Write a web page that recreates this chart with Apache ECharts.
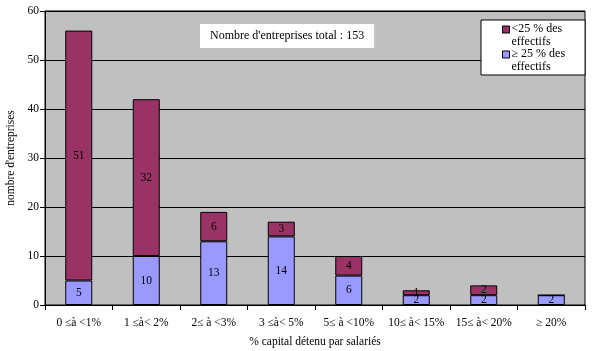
<!DOCTYPE html>
<html>
<head>
<meta charset="utf-8">
<script src="https://cdn.jsdelivr.net/npm/echarts@6/dist/echarts.min.js"></script>
<style>
  html, body { margin: 0; padding: 0; background: #fff; }
  #chart { width: 603px; height: 351px; }
</style>
</head>
<body>
<div id="chart"></div>
<script>
// tranches de capital détenu par les salariés
const categories = ['0 \u2264à <1%', '1 \u2264à< 2%', '2\u2264 à <3%', '3 \u2264à< 5%', '5\u2264 à <10%', '10\u2264 à< 15%', '15\u2264 à< 20%', '\u2265 20%'];
// >= 25 % des effectifs (bas de la pile)
const plus25 = [5, 10, 13, 14, 6, 2, 2, 2];
// < 25 % des effectifs (haut de la pile)
const moins25 = [51, 32, 6, 3, 4, 1, 2, 0];
const yTicks = [0, 10, 20, 30, 40, 50, 60];
const totalText = "Nombre d'entreprises total : 153";

const font = 'Liberation Serif';
const chart = echarts.init(document.getElementById('chart'));

chart.setOption({
    animation: false,
    textStyle: { fontFamily: font, color: '#000' },
    title: {
        text: totalText,
        left: 200,
        top: 24,
        padding: [6, 10, 6, 10],
        backgroundColor: '#fff',
        textStyle: { fontFamily: font, fontSize: 12, fontWeight: 'normal', color: '#000' }
    },
    legend: {
        orient: 'vertical',
        left: 481,
        top: 20,
        padding: [3, 20, 2, 21],
        itemGap: 0,
        itemWidth: 7,
        itemHeight: 19,
        backgroundColor: '#fff',
        borderColor: '#000',
        borderWidth: 1,
        borderRadius: 0,
        // carré en haut de l'élément, aligné sur la première ligne
        icon: 'path://M0,0h7v7h-7zM0,19',
        itemStyle: { borderColor: '#000', borderWidth: 1 },
        data: ['<25 % des effectifs', '\u2265 25 % des effectifs'],
        formatter: name => name.replace(' des ', ' des\n'),
        textStyle: { fontFamily: font, fontSize: 12, color: '#000', padding: [0, 0, 0, -3], lineHeight: 12.5 }
    },
    grid: {
        left: 45, top: 11, width: 540, height: 294,
        outerBoundsMode: 'none',
        show: true, backgroundColor: '#c0c0c0', borderColor: '#000', borderWidth: 1
    },
    xAxis: {
        type: 'category',
        data: categories,
        name: '% capital détenu par salariés',
        nameLocation: 'middle',
        nameGap: 31,
        nameTextStyle: { fontFamily: font, fontSize: 11.5, color: '#000' },
        axisLine: { lineStyle: { color: '#000' } },
        axisTick: { show: true, length: 5, lineStyle: { color: '#000' } },
        axisLabel: { fontFamily: font, fontSize: 11.5, color: '#000', margin: 12, interval: 0 }
    },
    yAxis: {
        type: 'value',
        min: yTicks[0],
        max: yTicks[yTicks.length - 1],
        interval: 10,
        name: "nombre d'entreprises",
        nameLocation: 'middle',
        nameGap: 25,
        nameTextStyle: { fontFamily: font, fontSize: 11.5, color: '#000' },
        axisLine: { show: true, lineStyle: { color: '#000' } },
        axisTick: { show: true, length: 5, lineStyle: { color: '#000' } },
        axisLabel: { fontFamily: font, fontSize: 11.5, color: '#000', margin: 6 },
        splitLine: { lineStyle: { color: '#000', width: 1 } }
    },
    series: [
        {
            name: '\u2265 25 % des effectifs',
            type: 'bar',
            stack: 'total',
            barWidth: '40%',
            data: plus25,
            itemStyle: { color: '#9999ff', borderColor: '#000', borderWidth: 1 },
            label: { show: true, position: 'inside', fontFamily: font, fontSize: 11.5, color: '#000' }
        },
        {
            name: '<25 % des effectifs',
            type: 'bar',
            stack: 'total',
            barWidth: '40%',
            data: moins25,
            itemStyle: { color: '#993366', borderColor: '#000', borderWidth: 1 },
            label: {
                show: true, position: 'inside', fontFamily: font, fontSize: 11.5, color: '#000',
                formatter: p => (p.value ? p.value : '')
            }
        }
    ]
});
</script>
</body>
</html>
